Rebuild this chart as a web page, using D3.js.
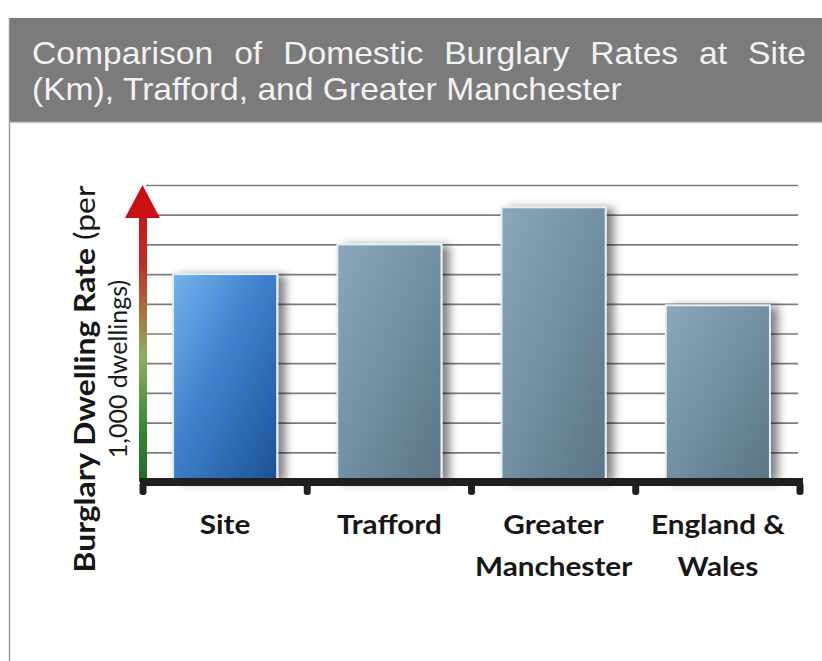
<!DOCTYPE html>
<html lang="en">
<head>
    <meta charset="UTF-8">
    <title>Domestic Burglary Rates</title>
    <script src="https://d3js.org/d3.v7.min.js"></script>
    <style>
        body {
            margin: 0;
            background-color: #ffffff;
        }
        svg {
            display: block;
        }
    </style>
</head>
<body>

    <svg id="chart" width="822" height="661"></svg>

    <script>
        // data (rate per 1,000 dwellings, axis has no numbers)
        const categories = ["Site", "Trafford", "Greater Manchester", "England & Wales"];
        const labelLines = [["Site"], ["Trafford"], ["Greater", "Manchester"], ["England &", "Wales"]];
        const rates = [7.0, 8.0, 9.25, 5.95];
        const gridValues = [1, 2, 3, 4, 5, 6, 7, 8, 9, 10];
        const titleLines = [
            "Comparison of Domestic Burglary Rates at Site",
            "(Km), Trafford, and Greater Manchester"
        ];
        const yLabelBold = "Burglary Dwelling Rate";
        const yLabelRest = [" (per", "1,000 dwellings)"];

        const svg = d3.select("#chart");
        const defs = svg.append("defs");

        // gradients and shadow
        const blueGrad = defs.append("linearGradient").attr("id", "blueGrad")
            .attr("x1", 0).attr("y1", 0).attr("x2", 1).attr("y2", 1);
        blueGrad.append("stop").attr("offset", 0).attr("stop-color", "#74b2ee");
        blueGrad.append("stop").attr("offset", 0.45).attr("stop-color", "#3f80cc");
        blueGrad.append("stop").attr("offset", 1).attr("stop-color", "#1d5293");

        const grayGrad = defs.append("linearGradient").attr("id", "grayGrad")
            .attr("x1", 0).attr("y1", 0).attr("x2", 1).attr("y2", 1);
        grayGrad.append("stop").attr("offset", 0).attr("stop-color", "#8aa8ba");
        grayGrad.append("stop").attr("offset", 0.5).attr("stop-color", "#7190a1");
        grayGrad.append("stop").attr("offset", 1).attr("stop-color", "#5b7584");

        const shadow = defs.append("filter").attr("id", "shadow")
            .attr("x", "-10%").attr("y", "-10%").attr("width", "140%").attr("height", "130%");
        shadow.append("feDropShadow")
            .attr("dx", 7).attr("dy", 2).attr("stdDeviation", 5)
            .attr("flood-color", "#000").attr("flood-opacity", 0.5);

        // frame and title banner
        svg.append("line")
            .attr("x1", 9.5).attr("x2", 9.5).attr("y1", 18).attr("y2", 661)
            .attr("stroke", "#9a9a9a").attr("stroke-width", 1.5);

        svg.append("rect")
            .attr("x", 10).attr("y", 18).attr("width", 812).attr("height", 104)
            .attr("fill", "#7b7b7b");
        svg.append("line")
            .attr("x1", 10).attr("x2", 822).attr("y1", 122.5).attr("y2", 122.5)
            .attr("stroke", "#c8c8c8").attr("stroke-width", 1.5);

        const titleG = svg.append("g");
        const t2 = titleG.append("text")
            .attr("x", 0).attr("y", 100)
            .attr("font-family", "'Liberation Sans', Arial, sans-serif")
            .attr("font-size", 32)
            .attr("fill", "#f2f2f2")
            .text(titleLines[1]);
        const t1 = titleG.append("text")
            .attr("x", 0).attr("y", 64)
            .attr("font-family", "'Liberation Sans', Arial, sans-serif")
            .attr("font-size", 32)
            .attr("fill", "#f2f2f2")
            .text(titleLines[0]);

        // second line sets the stretch, first line is justified to full width
        const sx = 590 / t2.node().getComputedTextLength();
        titleG.attr("transform", `translate(32,0) scale(${sx},1)`);
        const gaps = titleLines[0].split(" ").length - 1;
        const extra = (774 / sx - t1.node().getComputedTextLength()) / gaps;
        t1.style("word-spacing", extra + "px");

        // scales
        const x = d3.scaleBand()
            .domain(categories)
            .range([143, 800])
            .paddingInner(0.366)
            .paddingOuter(0.183);

        const y = d3.scaleLinear()
            .domain([0, 10])
            .range([482, 185]);

        // gridlines
        const grid = svg.append("g")
            .attr("transform", "translate(146,0)")
            .call(d3.axisLeft(y).tickValues(gridValues).tickSize(-652).tickFormat(""));
        grid.select(".domain").remove();
        grid.selectAll(".tick line")
            .attr("stroke", "#7c7c7c")
            .attr("stroke-width", 1.7);

        // bars
        svg.selectAll(".bar")
            .data(rates)
            .enter().append("rect")
            .attr("class", "bar")
            .attr("x", (d, i) => x(categories[i]))
            .attr("y", d => y(d))
            .attr("width", x.bandwidth())
            .attr("height", d => y(0) - 3 - y(d))
            .attr("fill", (d, i) => i === 0 ? "url(#blueGrad)" : "url(#grayGrad)")
            .attr("stroke", "#e4eef3")
            .attr("stroke-width", 2)
            .attr("filter", "url(#shadow)");

        // y "axis" as a green-to-red arrow
        const arrowGrad = defs.append("linearGradient").attr("id", "arrowGrad")
            .attr("gradientUnits", "userSpaceOnUse")
            .attr("x1", 0).attr("y1", y(0)).attr("x2", 0).attr("y2", y(10));
        arrowGrad.append("stop").attr("offset", 0).attr("stop-color", "#1d6b27");
        arrowGrad.append("stop").attr("offset", 0.2).attr("stop-color", "#3d8a36");
        arrowGrad.append("stop").attr("offset", 0.42).attr("stop-color", "#8cb062");
        arrowGrad.append("stop").attr("offset", 0.58).attr("stop-color", "#a8703a");
        arrowGrad.append("stop").attr("offset", 0.74).attr("stop-color", "#c4282a");
        arrowGrad.append("stop").attr("offset", 1).attr("stop-color", "#cc1010");

        svg.append("rect")
            .attr("x", 139).attr("y", y(10) + 30)
            .attr("width", 8).attr("height", y(0) - y(10) - 30)
            .attr("fill", "url(#arrowGrad)");
        svg.append("path")
            .attr("d", `M125,${y(10) + 33} L142.5,${y(10)} L160,${y(10) + 33} Z`)
            .attr("fill", "#cc0f12");

        // x axis bar with little tabs between categories
        const bounds = categories.map(c => x(c) - x.step() * x.paddingOuter()).concat([x.range()[1]]);
        svg.append("line")
            .attr("x1", 140).attr("x2", 803)
            .attr("y1", y(0)).attr("y2", y(0))
            .attr("stroke", "#1f1f1f").attr("stroke-width", 8);
        svg.selectAll(".tab")
            .data(bounds)
            .enter().append("rect")
            .attr("class", "tab")
            .attr("x", d => d - 3.5).attr("y", y(0))
            .attr("width", 7).attr("height", 13).attr("rx", 3)
            .attr("fill", "#1f1f1f");

        // category labels
        const labels = svg.selectAll(".xlab")
            .data(labelLines)
            .enter().append("g")
            .attr("class", "xlab")
            .attr("transform", (d, i) => `translate(${x(categories[i]) + x.bandwidth() / 2},0)`);
        labels.selectAll("text")
            .data(d => d)
            .enter().append("text")
            .attr("transform", (d, j) => `translate(0,${534 + j * 42}) scale(1.1,1)`)
            .attr("text-anchor", "middle")
            .attr("font-family", "Lato, 'Open Sans', sans-serif")
            .attr("font-weight", "bold")
            .attr("font-size", 27)
            .attr("fill", "#161616")
            .text(d => d);

        // y label, rotated; first line stretched along its length to match
        const yl1 = svg.append("text")
            .attr("text-anchor", "middle")
            .attr("font-family", "Lato, 'Open Sans', sans-serif")
            .attr("font-size", 29)
            .attr("fill", "#161616");
        yl1.append("tspan").attr("font-weight", "bold").text(yLabelBold);
        yl1.append("tspan").attr("font-weight", "normal").text(yLabelRest[0]);
        const ys = 387 / yl1.node().getComputedTextLength();
        yl1.attr("transform", `translate(95,379) rotate(-90) scale(${ys},1)`);

        svg.append("text")
            .attr("transform", "translate(127,369) rotate(-90)")
            .attr("text-anchor", "middle")
            .attr("font-family", "Lato, 'Open Sans', sans-serif")
            .attr("font-size", 25)
            .attr("fill", "#1a1a1a")
            .text(yLabelRest[1]);
    </script>
</body>
</html>
